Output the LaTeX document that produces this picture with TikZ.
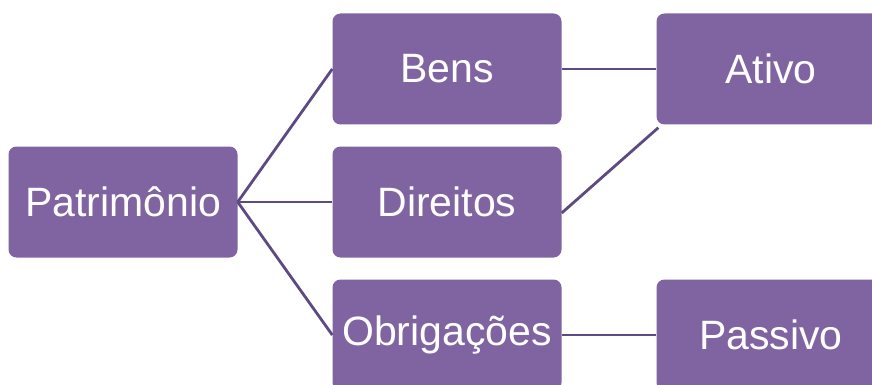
\documentclass[tikz,border=0pt]{standalone}
\usepackage{fontspec}
\setmainfont{Liberation Sans}
\definecolor{boxfill}{HTML}{8064A2}
\definecolor{linkcol}{HTML}{5E4A82}
\begin{document}
\begin{tikzpicture}[x=1pt,y=-1pt,
  itembox/.style={draw=none,fill=boxfill,rounded corners=8pt,minimum width=229pt,minimum height=111pt,inner sep=0pt,text=white,font=\fontsize{41}{49}\selectfont},
  link/.style={draw=linkcol,line width=2.8pt}]
\clip (0,0) rectangle (872,385);
\fill[white] (0,0) rectangle (872,385);
\node[itembox] (pat) at (123,202) {Patrimônio};
\node[itembox] (bens) at (447,69) {Bens};
\node[itembox] (dir) at (447,202) {Direitos};
\node[itembox] (obr) at (447,335) {Obrigações};
\node[itembox] (ati) at (771,69) {Ativo};
\node[itembox] (pas) at (771,335) {Passivo};
\draw[link] (pat.east) -- (bens.west);
\draw[link] (pat.east) -- (dir.west);
\draw[link] (pat.east) -- (obr.west);
\draw[link] (bens.east) -- (ati.west);
\coordinate (dirout) at ([yshift=-11pt]dir.east);
\draw[link] (dirout) -- ([xshift=2pt,yshift=-3pt]ati.south west);
\draw[link] (obr.east) -- (pas.west);
\end{tikzpicture}
\end{document}
